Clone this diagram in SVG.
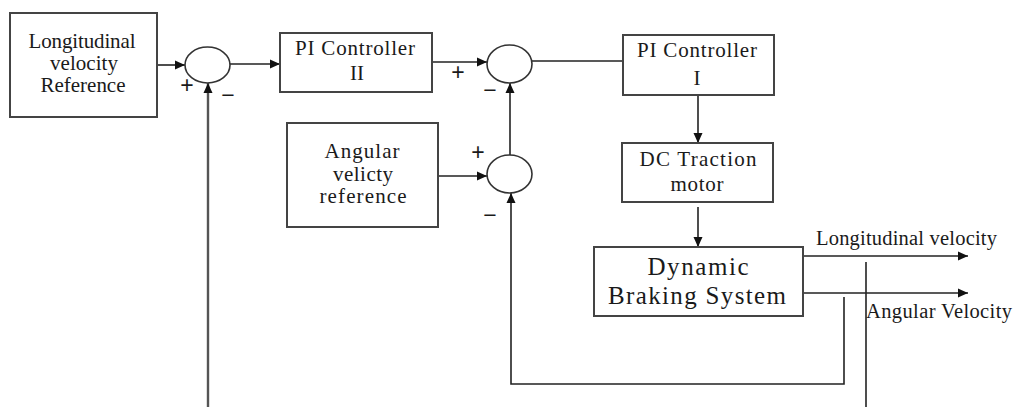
<svg xmlns="http://www.w3.org/2000/svg" width="1014" height="407" viewBox="0 0 1014 407">
<defs>
<marker id="ah" viewBox="0 0 10 10" refX="10" refY="5" markerWidth="10" markerHeight="10" markerUnits="userSpaceOnUse" orient="auto">
<path d="M0,0.5 L10,5 L0,9.5 Z" fill="#111"/>
</marker>
<style>
.box{fill:#fff;stroke:#444;stroke-width:2}
.sum{fill:#fff;stroke:#333;stroke-width:1.6}
.t{font-family:"Liberation Serif","Times New Roman",serif;font-size:21px;fill:#1a1a1a;text-anchor:middle}
.big{font-size:25px}
.lbl{font-family:"Liberation Serif","Times New Roman",serif;font-size:20.5px;fill:#1a1a1a}
.sg{font-family:"Liberation Sans",Arial,sans-serif;font-size:23px;fill:#1a1a1a;text-anchor:middle}
.c{fill:none;stroke:#222;stroke-width:1.6}
.fb{fill:none;stroke:#555;stroke-width:2.4}
</style>
</defs>
<rect width="1014" height="407" fill="#fff"/>

<g id="connectors">
<line class="c" x1="157" y1="65" x2="185" y2="65" marker-end="url(#ah)"/>
<line class="c" x1="230" y1="64" x2="280" y2="64" marker-end="url(#ah)"/>
<line class="c" x1="432" y1="62" x2="487" y2="62" marker-end="url(#ah)"/>
<line class="c" x1="532" y1="61" x2="623" y2="61"/>
<line class="c" x1="698" y1="95" x2="698" y2="143" marker-end="url(#ah)"/>
<line class="c" x1="698" y1="207" x2="698" y2="247" marker-end="url(#ah)"/>
<line class="c" x1="438" y1="176" x2="487" y2="176" marker-end="url(#ah)"/>
<line class="c" x1="510" y1="155" x2="510" y2="83" marker-end="url(#ah)"/>
<line class="c" x1="803" y1="256" x2="968" y2="256" marker-end="url(#ah)"/>
<line class="c" x1="803" y1="293" x2="968" y2="293" marker-end="url(#ah)"/>
<line class="c" x1="866" y1="262" x2="866" y2="407"/>
<polyline class="c" points="844,297 844,384 511,384 511,193" marker-end="url(#ah)"/>
<line class="fb" x1="208" y1="407" x2="208" y2="83" marker-end="url(#ah)"/>
</g>

<g id="ref-long">
<rect class="box" x="10" y="13" width="147" height="104"/>
<text class="t" x="82" y="48" textLength="107">Longitudinal</text>
<text class="t" x="84" y="70" textLength="68">velocity</text>
<text class="t" x="83" y="92" textLength="85">Reference</text>
</g>

<g id="sum1">
<ellipse class="sum" cx="207.5" cy="65" rx="22.5" ry="18"/>
<text class="sg" x="187" y="93">+</text>
<text class="sg" x="228" y="103">−</text>
</g>

<g id="pi2">
<rect class="box" x="280" y="33" width="152" height="59"/>
<text class="t" x="355" y="55" textLength="120">PI Controller</text>
<text class="t" x="357" y="80">II</text>
</g>

<g id="sum2">
<ellipse class="sum" cx="509.5" cy="64" rx="22.5" ry="19"/>
<text class="sg" x="458" y="80">+</text>
<text class="sg" x="490" y="98">−</text>
</g>

<g id="pi1">
<rect class="box" x="623" y="35" width="151" height="60"/>
<text class="t" x="697" y="57" textLength="120">PI Controller</text>
<text class="t" x="697" y="85">I</text>
</g>

<g id="ref-ang">
<rect class="box" x="287" y="123" width="151" height="104"/>
<text class="t" x="362" y="158" textLength="75">Angular</text>
<text class="t" x="363" y="181" textLength="60">velicty</text>
<text class="t" x="363" y="203" textLength="87">reference</text>
</g>

<g id="sum3">
<ellipse class="sum" cx="509.5" cy="174" rx="22.5" ry="19"/>
<text class="sg" x="478" y="160">+</text>
<text class="sg" x="490" y="223">−</text>
</g>

<g id="dc">
<rect class="box" x="622" y="143" width="151" height="59"/>
<text class="t" x="698" y="166" textLength="117">DC Traction</text>
<text class="t" x="697" y="191" textLength="53">motor</text>
</g>

<g id="dbs">
<rect class="box" x="594" y="247" width="209" height="69"/>
<text class="t big" x="698" y="275" textLength="101">Dynamic</text>
<text class="t big" x="697" y="304" textLength="178">Braking System</text>
</g>

<g id="labels">
<text class="lbl" x="816" y="245" textLength="181">Longitudinal velocity</text>
<text class="lbl" x="866" y="318" textLength="146">Angular Velocity</text>
</g>
</svg>
